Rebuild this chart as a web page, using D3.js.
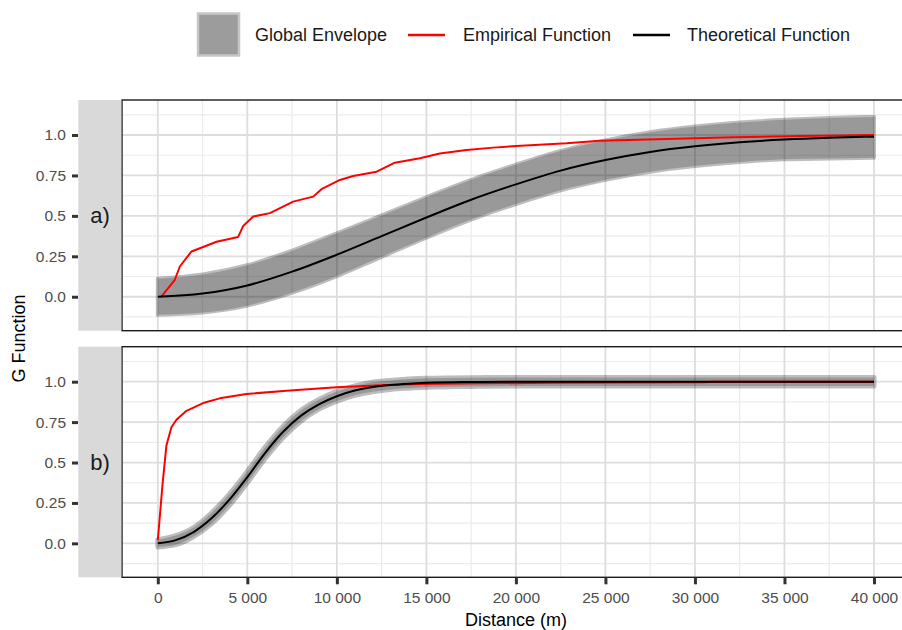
<!DOCTYPE html>
<html>
<head>
<meta charset="utf-8">
<script src="https://cdnjs.cloudflare.com/ajax/libs/d3/7.8.5/d3.min.js"></script>
<style>
  body { margin: 0; background: #fff; }
  svg { font-family: "Liberation Sans", Arial, sans-serif; }
</style>
</head>
<body>
<script>
'use strict';

// ---- panel a) : theoretical curve + global envelope (read off the picture)
const distA  = [0, 2500, 5000, 7500, 10000, 12500, 15000, 17500, 20000, 22500, 25000, 27500, 30000, 32500, 35000, 37500, 40000];
const theoA  = [0, 0.02, 0.07, 0.155, 0.26, 0.375, 0.49, 0.60, 0.695, 0.78, 0.845, 0.895, 0.93, 0.955, 0.972, 0.983, 0.99];
const envLoA = [-0.112, -0.098, -0.055, 0.025, 0.128, 0.247, 0.365, 0.477, 0.573, 0.658, 0.723, 0.773, 0.808, 0.833, 0.85, 0.855, 0.86];
const envHiA = [0.112, 0.138, 0.195, 0.285, 0.392, 0.503, 0.615, 0.723, 0.817, 0.902, 0.967, 1.017, 1.052, 1.077, 1.094, 1.105, 1.112];

// panel a) empirical function
const empDistA = [200, 950, 1230, 1880, 2350, 3280, 4490, 4770, 5330, 6260, 7560, 8680, 9140, 10170, 10910, 12220, 13240, 14640, 15750, 17240, 18730, 20030, 22830, 24690, 28420, 32120, 35870, 40000];
const empA     = [0, 0.105, 0.187, 0.28, 0.30, 0.34, 0.37, 0.438, 0.496, 0.517, 0.588, 0.619, 0.665, 0.722, 0.747, 0.773, 0.829, 0.856, 0.886, 0.907, 0.922, 0.932, 0.949, 0.965, 0.975, 0.986, 0.994, 1.0];

// ---- panel b)
const distB  = [0, 1000, 2000, 3000, 4000, 5000, 6000, 7000, 8000, 9000, 10000, 11000, 12000, 13000, 14000, 15000, 17500, 20000, 25000, 30000, 35000, 40000];
const theoB  = [0, 0.02, 0.07, 0.155, 0.27, 0.41, 0.56, 0.69, 0.79, 0.86, 0.91, 0.945, 0.967, 0.98, 0.988, 0.993, 0.998, 1.0, 1.0, 1.0, 1.0, 1.0];
const envLoB = [-0.022, -0.008, 0.042, 0.122, 0.235, 0.375, 0.525, 0.655, 0.757, 0.83, 0.88, 0.916, 0.938, 0.952, 0.96, 0.966, 0.971, 0.974, 0.974, 0.974, 0.974, 0.974];
const envHiB = [0.022, 0.048, 0.098, 0.188, 0.305, 0.445, 0.595, 0.725, 0.823, 0.89, 0.94, 0.974, 0.996, 1.008, 1.016, 1.021, 1.025, 1.026, 1.026, 1.026, 1.026, 1.026];

const empDistB = [0, 260, 480, 760, 1040, 1600, 2530, 3460, 4950, 7190, 9980, 12780, 14640, 18000, 22000, 26000, 30500, 31000, 40000];
const empB     = [0.02, 0.36, 0.605, 0.718, 0.765, 0.82, 0.868, 0.897, 0.924, 0.944, 0.965, 0.979, 0.985, 0.99, 0.993, 0.995, 0.997, 1.0, 1.0];

// ticks and labels
const xTicks = [0, 5000, 10000, 15000, 20000, 25000, 30000, 35000, 40000];
const xMinor = [2500, 7500, 12500, 17500, 22500, 27500, 32500, 37500];
const yTicks = [0, 0.25, 0.5, 0.75, 1];
const yTickLabels = ["0.0", "0.25", "0.5", "0.75", "1.0"];
const yMinor = [-0.125, 0.125, 0.375, 0.625, 0.875, 1.125];
const panelLabels = ["a)", "b)"];
const legendLabels = ["Global Envelope", "Empirical Function", "Theoretical Function"];

(function() {

  let svg = d3.select('body')
    .append('svg')
    .attr('width', 902)
    .attr('height', 630);

  svg.append('rect')
    .attr('width', 902).attr('height', 630)
    .attr('fill', '#fff');

  // shared x scale (ggplot-like 5% expansion, right edge runs off the picture)
  let x = d3.scaleLinear()
    .domain([-2000, 42000])
    .range([122, 909.8]);

  let fmt = d3.formatLocale({ decimal: ".", thousands: " ", grouping: [3], currency: ["", ""] }).format(",");

  let panels = [
    { top: 100, bottom: 330.7, dist: distA, theo: theoA, lo: envLoA, hi: envHiA, ed: empDistA, emp: empA, fringe: 4 },
    { top: 346.7, bottom: 577.3, dist: distB, theo: theoB, lo: envLoB, hi: envHiB, ed: empDistB, emp: empB, fringe: 5 }
  ];

  panels.forEach((p, i) => {
    let y = d3.scaleLinear()
      .domain([-0.21, 1.2165])
      .range([p.bottom, p.top]);
    p.y = y;

    let g = svg.append('g');

    // clip to panel
    let clipId = 'clip' + i;
    svg.append('clipPath').attr('id', clipId)
      .append('rect')
      .attr('x', 122).attr('y', p.top)
      .attr('width', 902 - 122).attr('height', p.bottom - p.top);

    // minor grid
    g.selectAll('.xminor').data(xMinor).enter().append('line')
      .attr('x1', (d) => x(d)).attr('x2', (d) => x(d))
      .attr('y1', p.top).attr('y2', p.bottom)
      .attr('stroke', '#EBEBEB').attr('stroke-width', 1.2);
    g.selectAll('.yminor').data(yMinor).enter().append('line')
      .attr('x1', 122).attr('x2', 910)
      .attr('y1', (d) => y(d)).attr('y2', (d) => y(d))
      .attr('stroke', '#EBEBEB').attr('stroke-width', 1.2);

    // major grid
    g.selectAll('.xmajor').data(xTicks).enter().append('line')
      .attr('x1', (d) => x(d)).attr('x2', (d) => x(d))
      .attr('y1', p.top).attr('y2', p.bottom)
      .attr('stroke', '#DDDDDD').attr('stroke-width', 1.8);
    g.selectAll('.ymajor').data(yTicks).enter().append('line')
      .attr('x1', 122).attr('x2', 910)
      .attr('y1', (d) => y(d)).attr('y2', (d) => y(d))
      .attr('stroke', '#DDDDDD').attr('stroke-width', 1.8);

    let idx = d3.range(p.dist.length);

    let area = d3.area()
      .x((k) => x(p.dist[k]))
      .y0((k) => y(p.lo[k]))
      .y1((k) => y(p.hi[k]))
      .curve(d3.curveMonotoneX);

    let plot = g.append('g').attr('clip-path', 'url(#' + clipId + ')');

    // envelope: light fringe + darker core
    plot.append('g').attr('opacity', 0.26)
      .append('path')
      .attr('d', area(idx))
      .attr('fill', '#000')
      .attr('stroke', '#000')
      .attr('stroke-width', p.fringe)
      .attr('stroke-linejoin', 'round');
    plot.append('path')
      .attr('d', area(idx))
      .attr('fill', '#000')
      .attr('fill-opacity', 0.19);

    // empirical function
    let eLine = d3.line()
      .x((k) => x(p.ed[k]))
      .y((k) => y(p.emp[k]));
    plot.append('path')
      .attr('d', eLine(d3.range(p.ed.length)))
      .attr('fill', 'none')
      .attr('stroke', '#FF0000')
      .attr('stroke-width', 2)
      .attr('stroke-linejoin', 'round');

    // theoretical function
    let tLine = d3.line()
      .x((k) => x(p.dist[k]))
      .y((k) => y(p.theo[k]))
      .curve(d3.curveMonotoneX);
    plot.append('path')
      .attr('d', tLine(idx))
      .attr('fill', 'none')
      .attr('stroke', '#000')
      .attr('stroke-width', 2);

    // panel border
    g.append('rect')
      .attr('x', 122).attr('y', p.top)
      .attr('width', 909.8 - 122).attr('height', p.bottom - p.top)
      .attr('fill', 'none')
      .attr('stroke', '#1A1A1A')
      .attr('stroke-width', 1.4);

    // strip on the left
    svg.append('rect')
      .attr('x', 78.3).attr('y', p.top)
      .attr('width', 122 - 78.3 - 0.7).attr('height', p.bottom - p.top)
      .attr('fill', '#D9D9D9');
    svg.append('text')
      .attr('x', 100).attr('y', (p.top + p.bottom) / 2)
      .attr('text-anchor', 'middle')
      .attr('dominant-baseline', 'central')
      .style('font-size', '22px')
      .attr('fill', '#1A1A1A')
      .text(panelLabels[i]);

    // y axis
    let yAxis = d3.axisLeft(y)
      .tickValues(yTicks)
      .tickFormat((d, k) => yTickLabels[k])
      .tickSize(6)
      .tickPadding(6);
    let ya = svg.append('g')
      .attr('transform', 'translate(78, 0)')
      .call(yAxis);
    ya.select('.domain').remove();
    ya.selectAll('line').attr('stroke', '#333').attr('stroke-width', 3);
    ya.selectAll('text')
      .style('font-size', '15.5px')
      .attr('fill', '#4D4D4D')
      .style('font-family', '"Liberation Sans", Arial, sans-serif');
  });

  // x axis under the bottom panel
  let xAxis = d3.axisBottom(x)
    .tickValues(xTicks)
    .tickFormat(fmt)
    .tickSize(7)
    .tickPadding(7.5);
  let xa = svg.append('g')
    .attr('transform', 'translate(0, ' + panels[1].bottom + ')')
    .call(xAxis);
  xa.select('.domain').remove();
  xa.selectAll('line').attr('stroke', '#333').attr('stroke-width', 3);
  xa.selectAll('text')
    .style('font-size', '15.5px')
    .attr('fill', '#4D4D4D')
    .style('font-family', '"Liberation Sans", Arial, sans-serif');

  // axis titles
  svg.append('text')
    .attr('x', 516).attr('y', 626)
    .attr('text-anchor', 'middle')
    .style('font-size', '18px')
    .attr('fill', '#000')
    .text('Distance (m)');

  svg.append('text')
    .attr('transform', 'translate(18.5, 338.5)rotate(-90)')
    .attr('text-anchor', 'middle')
    .attr('dominant-baseline', 'central')
    .style('font-size', '18px')
    .attr('fill', '#000')
    .text('G Function');

  // legend
  let leg = svg.append('g');
  leg.append('rect')
    .attr('x', 198).attr('y', 13.5)
    .attr('width', 41).attr('height', 42)
    .attr('fill', '#9C9C9C')
    .attr('stroke', '#C6C6C6')
    .attr('stroke-width', 2.5);
  leg.append('line')
    .attr('x1', 408).attr('x2', 445).attr('y1', 35).attr('y2', 35)
    .attr('stroke', '#FF0000').attr('stroke-width', 2.5);
  leg.append('line')
    .attr('x1', 633).attr('x2', 670).attr('y1', 35).attr('y2', 35)
    .attr('stroke', '#000').attr('stroke-width', 2.5);

  let legX = [255, 463, 687];
  leg.selectAll('.lt').data(legendLabels).enter().append('text')
    .attr('x', (d, k) => legX[k])
    .attr('y', 41)
    .style('font-size', '18px')
    .attr('fill', '#1A1A1A')
    .text((d) => d);

})();
</script>
</body>
</html>
